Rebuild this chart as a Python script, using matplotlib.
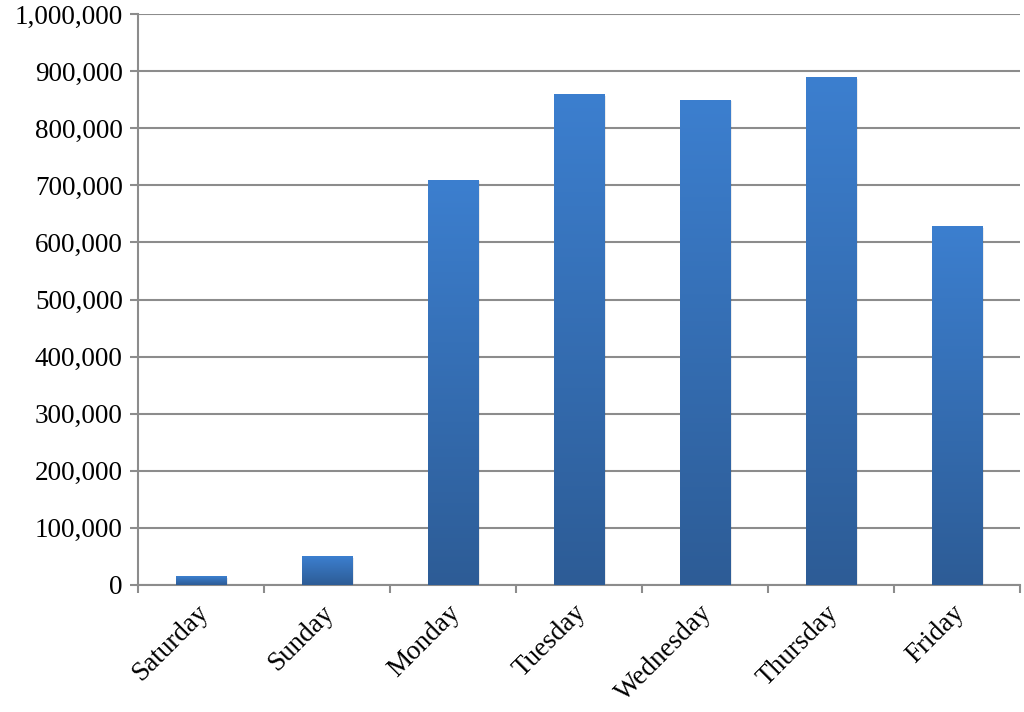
import numpy as np
import matplotlib.pyplot as plt
from matplotlib.ticker import FuncFormatter, FixedLocator
from matplotlib.colors import LinearSegmentedColormap

#* Data
days = ['Saturday', 'Sunday', 'Monday', 'Tuesday', 'Wednesday', 'Thursday', 'Friday']
counts = [15000, 50000, 710000, 860000, 850000, 890000, 628000]

#* Style
plt.rcParams['font.family'] = ['Liberation Serif', 'DejaVu Serif']
plt.rcParams['font.size'] = 19.5
GRID = '#8c8c8c'
grad = LinearSegmentedColormap.from_list('bar', ['#2d5c96', '#3c7fcf'])

fig = plt.figure(figsize=(10.24, 7.12), dpi=100)
ax = fig.add_axes([0.1348, 0.1784, 0.8612, 0.8019])

x = np.arange(len(days))
width = 0.4
bars = ax.bar(x, counts, width=width, color='none', edgecolor='none', zorder=3)

# vertical gradient inside each bar, light on top
g = np.linspace(0, 1, 256).reshape(-1, 1)
for rect in bars:
    x0, h = rect.get_x(), rect.get_height()
    # faint shadow
    ax.bar(x0 + width / 2 + 0.012, h, width=width, bottom=-3000,
           color='#000000', alpha=0.08, zorder=2)
    im = ax.imshow(g, cmap=grad, origin='lower', aspect='auto',
                   extent=(x0, x0 + width, 0, h), zorder=3)
    im.set_clip_path(rect)

ax.set_xlim(-0.5, len(days) - 0.5)
ax.set_ylim(0, 1000000)

ax.yaxis.set_major_locator(FixedLocator(np.arange(0, 1000001, 100000)))
ax.yaxis.set_major_formatter(FuncFormatter(lambda v, p: f'{int(v):,}'))
# labels hang just left of each category centre
ax.set_xticks(x - 0.045)
ax.set_xticklabels(days, rotation=45, ha='right', rotation_mode='anchor')
ax.xaxis.set_minor_locator(FixedLocator(np.arange(-0.5, len(days), 1)))
ax.tick_params(axis='x', which='major', length=0, pad=11)
ax.tick_params(axis='x', which='minor', length=6, width=1.5, color=GRID, direction='out')
ax.tick_params(axis='y', length=6, width=1.5, color=GRID, direction='out', pad=5)

ax.grid(True, axis='y', color=GRID, linewidth=1.5, zorder=0)
ax.set_axisbelow(True)
for s in ['top', 'right']:
    ax.spines[s].set_visible(False)
for s in ['left', 'bottom']:
    ax.spines[s].set_color(GRID)
    ax.spines[s].set_linewidth(1.5)

fig.savefig('out.png', dpi=100)
